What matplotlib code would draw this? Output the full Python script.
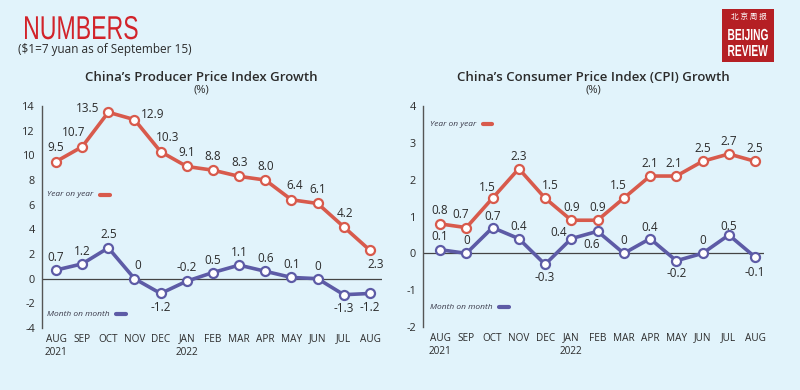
import matplotlib

matplotlib.use("Agg")
import matplotlib.pyplot as plt
from matplotlib.font_manager import FontProperties
from matplotlib.patches import PathPatch, Rectangle
from matplotlib.textpath import TextPath
from matplotlib.transforms import Affine2D

months = ["AUG\n2021", "SEP", "OCT", "NOV", "DEC", "JAN\n2022", "FEB", "MAR",
          "APR", "MAY", "JUN", "JUL", "AUG"]

ppi_yoy = [9.5, 10.7, 13.5, 12.9, 10.3, 9.1, 8.8, 8.3, 8.0, 6.4, 6.1, 4.2, 2.3]
ppi_mom = [0.7, 1.2, 2.5, 0, -1.2, -0.2, 0.5, 1.1, 0.6, 0.1, 0, -1.3, -1.2]
ppi_yoy_text = ["9.5", "10.7", "13.5", "12.9", "10.3", "9.1", "8.8", "8.3", "8.0", "6.4", "6.1", "4.2", "2.3"]
ppi_mom_text = ["0.7", "1.2", "2.5", "0", "-1.2", "-0.2", "0.5", "1.1", "0.6", "0.1", "0", "-1.3", "-1.2"]

cpi_yoy = [0.8, 0.7, 1.5, 2.3, 1.5, 0.9, 0.9, 1.5, 2.1, 2.1, 2.5, 2.7, 2.5]
cpi_mom = [0.1, 0, 0.7, 0.4, -0.3, 0.4, 0.6, 0, 0.4, -0.2, 0, 0.5, -0.1]
cpi_yoy_text = ["0.8", "0.7", "1.5", "2.3", "1.5", "0.9", "0.9", "1.5", "2.1", "2.1", "2.5", "2.7", "2.5"]
cpi_mom_text = ["0.1", "0", "0.7", "0.4", "-0.3", "0.4", "0.6", "0", "0.4", "-0.2", "0", "0.5", "-0.1"]

BG = "#e1f3fb"
RED = "#d85a4c"
PURPLE = "#5d5ba6"
TXT = "#2b2b2b"

plt.rcParams["font.family"] = ["Open Sans", "DejaVu Sans"]

# label offsets in points (dx, dy)
ppi_yoy_off = [(0, 10), (-6, 10), (-15, 3), (13, 4), (5, 10), (0, 10), (0, 10), (0, 10), (0, 10), (2, 10), (0, 10), (1, 10), (4, -10)]
ppi_mom_off = [(0, 9), (0, 9), (0, 9.5), (2, 9.5), (0, -10), (0, 10), (0, 9), (0, 9), (0, 9), (0, 9), (0, 9), (0, -10), (0, -10)]
cpi_yoy_off = [(0, 10), (-4, 9.5), (-4, 8), (0, 9), (4, 9), (0, 9), (0, 9), (-4, 9), (0, 9), (-2, 9), (0, 9), (0, 9), (0, 9)]
cpi_mom_off = [(0, 9.5), (0, 9.5), (0, 8), (0, 8.5), (0, -9.5), (-9, 4.5), (-4, -9.5), (0, 9.5), (0, 8), (0, -9), (0, 9.5), (0, 6), (0, -11)]


def squeezed_text(fig, s, x_px, y_px, size_px, sx, color, weight="normal", center=False):
    prop = FontProperties(family="Liberation Sans", weight=weight)
    path = TextPath((0, 0), s, size=size_px, prop=prop)
    ext = path.get_extents()
    shift = -ext.x0 - (ext.width / 2 if center else 0)
    tr = Affine2D().translate(shift, 0).scale(sx, 1).translate(x_px, fig.bbox.height - y_px)
    fig.add_artist(PathPatch(path, transform=tr, facecolor=color, edgecolor="none", lw=0))


def draw_series(ax, values, texts, offsets, color):
    x = list(range(len(values)))
    ax.plot(x, values, color=color, linewidth=2.6, marker="o", markersize=6.5,
            markerfacecolor="white", markeredgecolor=color, markeredgewidth=1.6,
            solid_joinstyle="round", zorder=4)
    for xi, v, t, (dx, dy) in zip(x, values, texts, offsets):
        ax.annotate(t, (xi, v), xytext=(dx, dy), textcoords="offset points",
                    ha="center", va="center", fontsize=8.5, color=TXT, zorder=5)


def style_axis(ax, ylim, yticks, xlim):
    ax.set_facecolor("none")
    ax.set_xlim(*xlim)
    ax.set_ylim(*ylim)
    ax.set_yticks(yticks)
    ax.set_yticklabels([str(t) for t in yticks])
    ax.set_xticks(range(len(months)))
    ax.set_xticklabels(months, fontsize=7.2, color=TXT, linespacing=1.35)
    for side in ["top", "right", "bottom"]:
        ax.spines[side].set_visible(False)
    ax.spines["left"].set_color("#555555")
    ax.spines["left"].set_linewidth(1.0)
    ax.tick_params(axis="y", length=0, pad=5, labelsize=7.8, labelcolor=TXT)
    ax.tick_params(axis="x", length=0, pad=4)
    ax.axhline(0, color="#444444", linewidth=0.9, zorder=2)


def legend_item(ax, x, y, label, color, x0, x1):
    ax.text(x, y, label, transform=ax.transAxes, fontsize=6.0, style="italic",
            color="#3a3a4a", va="center", ha="left")
    ax.plot([x0, x1], [y, y], transform=ax.transAxes, color=color,
            linewidth=3, solid_capstyle="round")


fig = plt.figure(figsize=(8, 3.9), dpi=100)
fig.patch.set_facecolor(BG)

# header
squeezed_text(fig, "NUMBERS", 25, 39, 33, 0.70, "#d2232a")
fig.text(0.023, 0.865, "($1=7 yuan as of September 15)", fontsize=8.5, color=TXT, va="baseline")

# logo
fig.add_artist(Rectangle((0.9025, 0.841), 0.065, 0.135, transform=fig.transFigure,
                         facecolor="#b51f24", edgecolor="none"))
fig.text(0.9355, 0.953, "北 京 周 报", fontsize=5.5, color="white", ha="center", va="center",
         family=["Noto Sans CJK SC", "DejaVu Sans"])
squeezed_text(fig, "BEIJING", 748, 40, 16, 0.64, "white", weight="bold", center=True)
squeezed_text(fig, "REVIEW", 748, 56, 16, 0.64, "white", weight="bold", center=True)

# left: PPI
ax1 = fig.add_axes([0.0525, 0.159, 0.425, 0.569])
style_axis(ax1, (-4, 14), list(range(-4, 15, 2)), (-0.535, 12.46))
draw_series(ax1, ppi_yoy, ppi_yoy_text, ppi_yoy_off, RED)
draw_series(ax1, ppi_mom, ppi_mom_text, ppi_mom_off, PURPLE)
ax1.text(0.47, 1.13, "China\u2019s Producer Price Index Growth", transform=ax1.transAxes,
         ha="center", va="center", fontsize=9.5, weight="semibold", color=TXT)
ax1.text(0.47, 1.072, "(%)", transform=ax1.transAxes, ha="center", va="center",
         fontsize=8, color=TXT)
legend_item(ax1, 0.015, 0.6, "Year on year", RED, 0.172, 0.2)
legend_item(ax1, 0.015, 0.063, "Month on month", PURPLE, 0.218, 0.247)

# right: CPI
ax2 = fig.add_axes([0.52875, 0.1615, 0.42625, 0.5665])
style_axis(ax2, (-2, 4), list(range(-2, 5)), (-0.65, 12.34))
draw_series(ax2, cpi_yoy, cpi_yoy_text, cpi_yoy_off, RED)
draw_series(ax2, cpi_mom, cpi_mom_text, cpi_mom_off, PURPLE)
ax2.text(0.5, 1.13, "China\u2019s Consumer Price Index (CPI) Growth", transform=ax2.transAxes,
         ha="center", va="center", fontsize=9.5, weight="semibold", color=TXT)
ax2.text(0.5, 1.072, "(%)", transform=ax2.transAxes, ha="center", va="center",
         fontsize=8, color=TXT)
legend_item(ax2, 0.02, 0.918, "Year on year", RED, 0.175, 0.202)
legend_item(ax2, 0.02, 0.09, "Month on month", PURPLE, 0.222, 0.252)

fig.savefig("out.png", dpi=100, facecolor=BG)
